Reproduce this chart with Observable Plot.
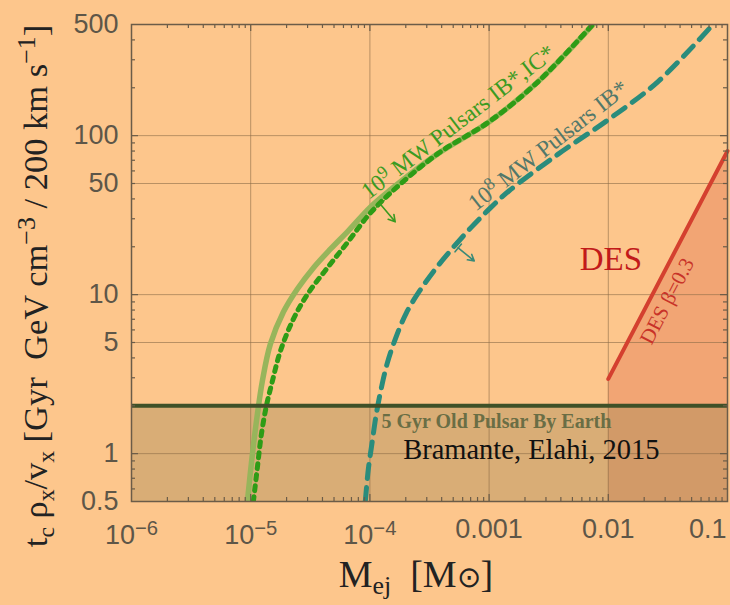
<!DOCTYPE html>
<html><head><meta charset="utf-8">
<script src="https://cdn.jsdelivr.net/npm/d3@7"></script>
<script src="https://cdn.jsdelivr.net/npm/@observablehq/plot@0.6"></script>
<style>
html,body{margin:0;padding:0;background:#FDC68C;}
#chart{width:730px;height:605px;overflow:hidden;}
svg text{white-space:pre;}
</style></head><body><div id="chart"></div>
<script>
// ---- axes ----
const xPowTicks = [1e-6, 1e-5, 1e-4];
const xPowTickLabels = ["10^{−6}", "10^{−5}", "10^{−4}"];
const xDecTicks = [1e-3, 1e-2];
const xDecTickLabels = ["0.001", "0.01"];
const xLastTick = [0.1];
const xLastTickLabel = ["0.1"];
const yTicks = [0.5, 1, 5, 10, 50, 100, 500];
const yTickLabels = ["0.5", "1", "5", "10", "50", "100", "500"];
const xGrid = [1e-5, 1e-4, 1e-3, 1e-2];
const yGrid = [1, 5, 10, 50, 100];
const xDecades = [1e-6, 1e-5, 1e-4, 1e-3, 1e-2];
const yDecades = [0.1, 1, 10, 100];
const minorMultipliers = [2, 3, 4, 5, 6, 7, 8, 9];

// ---- series ----
const greenSolidMass = [9.38e-6, 1.033e-5, 1.138e-5, 1.253e-5, 1.462e-5, 1.88e-5, 2.463e-5, 3.354e-5, 4.656e-5, 6.59e-5, 1.008e-4, 1.483e-4, 3.673e-4, 1.002e-3, 2.53e-3, 7.46e-3];
const greenSolidTime = [0.5, 0.99, 1.77, 2.86, 4.88, 7.77, 10.85, 14.72, 19.3, 25.2, 35.5, 45.5, 76.5, 122.4, 215.6, 500];
const greenDotMass = [1.053e-5, 1.138e-5, 1.229e-5, 1.353e-5, 1.52e-5, 1.774e-5, 2.28e-5, 3.046e-5, 4.393e-5, 6.465e-5, 9.7e-5, 1.483e-4, 3.673e-4, 1.002e-3, 2.53e-3, 7.4e-3];
const greenDotTime = [0.5, 0.82, 1.32, 1.99, 2.86, 4.41, 7.02, 10.24, 14.72, 21.2, 31.5, 43.5, 76.5, 122.4, 215.6, 500];
const tealMass = [9.15e-5, 9.7e-5, 1.047e-4, 1.131e-4, 1.246e-4, 1.399e-4, 1.633e-4, 2.019e-4, 2.646e-4, 3.602e-4, 5.0e-4, 7.08e-4, 1.021e-3, 1.474e-3, 3.795e-3, 1.0e-2, 2.615e-2, 7.56e-2];
const tealTime = [0.5, 0.797, 1.196, 1.77, 2.58, 3.71, 5.25, 7.66, 10.7, 14.72, 19.8, 26.5, 35.0, 45.0, 76.5, 126, 218.7, 500];
const desMass = [0.01, 0.1];
const desTime = [2.95, 80];
const bandMass = [1e-6, 0.1];
const bandLow = 0.5;
const earthLimit = 2;

// ---- annotations ----
const greenArrow = {m1: 1.22e-4, t1: 37.2, m2: 1.63e-4, t2: 28.7};
const tealArrow = {m1: 5.5e-4, t1: 19.7, m2: 7.5e-4, t2: 16.3};
const greenBar = [{m: 1.136e-4, t: 35.6}, {m: 1.315e-4, t: 39.0}];
const tealBar = [{m: 5.18e-4, t: 18.6}, {m: 5.86e-4, t: 20.8}];
const greenLabel = {m: 5.5e-4, t: 122, text: "10^{9} MW Pulsars IB*,IC*"};
const tealLabel = {m: 3.13e-3, t: 86.5, text: "10^{8} MW Pulsars IB*"};
const desLabel = {m: 0.0105, t: 16.7, text: "DES"};
const desBetaLabel = {m: 0.0311, t: 9.1, text: "DES β=0.3"};
const earthLabel = {m: 1.25e-4, t: 1.6, text: "5 Gyr Old Pulsar By Earth"};
const creditLabel = {m: 1.9e-4, t: 1.06, text: "Bramante, Elahi, 2015"};
const xLabel = "M_{ej}  [M~{⊙}]";
const yLabel = "t_{c} ρ_{x}/v_{x} [Gyr  GeV cm^{−3} / 200 km s^{−1}]";

const zip = (a, b) => a.map((m, i) => ({m, t: b[i]}));
const minorX = xDecades.flatMap(d => minorMultipliers.map(k => d * k)).filter(v => v < 0.1);
const minorY = yDecades.flatMap(d => minorMultipliers.map(k => d * k)).filter(v => v > 0.5 && v < 500);
const majorX = [1e-5, 1e-4, 1e-3, 1e-2];
const majorY = [1, 10, 100];

const serif = "Liberation Serif";
const sans = "Liberation Sans";
const tickColor = "#6B5C48";
const labelColor = "#5E5648";
const W = 730, H = 605, mL = 131, mR = 3, mT = 24, mB = 104;
const fw = W - mL - mR, fh = H - mT - mB;
const tickRule = (vals, dim, side, len) => {
  const o = {stroke: tickColor, strokeWidth: 1.2};
  if (dim === "x") {
    if (side === "bottom") o.insetTop = fh - len; else o.insetBottom = fh - len;
    return Plot.ruleX(vals, o);
  }
  if (side === "left") o.insetRight = fw - len; else o.insetLeft = fw - len;
  return Plot.ruleY(vals, o);
};

const chart = Plot.plot({
  width: W, height: H,
  marginLeft: mL, marginRight: mR, marginTop: mT, marginBottom: mB,
  style: {background: "transparent", fontFamily: sans, overflow: "visible"},
  x: {type: "log", domain: [1e-6, 0.1], axis: null},
  y: {type: "log", domain: [0.5, 500], axis: null},
  marks: [
    Plot.areaY(zip(desMass, desTime), {x: "m", y1: bandLow, y2: "t", fill: "#F2A574"}),
    Plot.areaY(bandMass.map(m => ({m})), {x: "m", y1: bandLow, y2: earthLimit, fill: "#A88A58", fillOpacity: 0.42}),
    Plot.ruleX(xGrid, {stroke: "#8C6C48", strokeOpacity: 0.6, strokeWidth: 1}),
    Plot.ruleY(yGrid, {stroke: "#8C6C48", strokeOpacity: 0.6, strokeWidth: 1}),
    Plot.line(zip(greenSolidMass, greenSolidTime), {x: "m", y: "t", stroke: "#97B55B", strokeWidth: 5.5, curve: "catmull-rom", clip: true}),
    Plot.line(zip(greenDotMass, greenDotTime), {x: "m", y: "t", stroke: "#2E9C16", strokeWidth: 5, strokeDasharray: "5,6", curve: "catmull-rom", clip: true}),
    Plot.line(zip(tealMass, tealTime), {x: "m", y: "t", stroke: "#2A8C7C", strokeWidth: 5, strokeDasharray: "14,9", curve: "catmull-rom", clip: true}),
    Plot.line(zip(desMass, desTime), {x: "m", y: "t", stroke: "#D4402F", strokeWidth: 4}),
    Plot.ruleY([earthLimit], {stroke: "#3F5128", strokeWidth: 4}),
    Plot.arrow([greenArrow], {x1: "m1", y1: "t1", x2: "m2", y2: "t2", stroke: "#3A9A20", strokeWidth: 1.6, headLength: 7}),
    Plot.arrow([tealArrow], {x1: "m1", y1: "t1", x2: "m2", y2: "t2", stroke: "#3A8A78", strokeWidth: 1.6, headLength: 7}),
    Plot.line(greenBar, {x: "m", y: "t", stroke: "#3A9A20", strokeWidth: 1.6}),
    Plot.line(tealBar, {x: "m", y: "t", stroke: "#3A8A78", strokeWidth: 1.6}),
    Plot.text([greenLabel], {x: "m", y: "t", text: "text", rotate: -37.5, fontSize: 23.5, fontFamily: serif, fill: "#3C9B22"}),
    Plot.text([tealLabel], {x: "m", y: "t", text: "text", rotate: -38, fontSize: 23.5, fontFamily: serif, fill: "#52786A"}),
    Plot.text([desLabel], {x: "m", y: "t", text: "text", fontSize: 33, fontFamily: serif, fill: "#C21A1A"}),
    Plot.text([desBetaLabel], {x: "m", y: "t", text: "text", rotate: -62.6, fontSize: 21, fontFamily: serif, fill: "#C83228"}),
    Plot.text([earthLabel], {x: "m", y: "t", text: "text", textAnchor: "start", fontSize: 20, fontWeight: "bold", fontFamily: serif, fill: "#6A6E45"}),
    Plot.text([creditLabel], {x: "m", y: "t", text: "text", textAnchor: "start", fontSize: 28.5, fontFamily: serif, fill: "#111111"}),
    // inward ticks on all four sides
    tickRule(minorX, "x", "bottom", 4), tickRule(minorX, "x", "top", 4),
    tickRule(majorX, "x", "bottom", 7), tickRule(majorX, "x", "top", 7),
    tickRule(minorY, "y", "left", 4), tickRule(minorY, "y", "right", 4),
    tickRule(majorY, "y", "left", 7), tickRule(majorY, "y", "right", 7),
    Plot.frame({stroke: tickColor, strokeWidth: 1.5}),
    // tick labels
    Plot.text(xPowTicks, {x: d => d, text: (d, i) => xPowTickLabels[i], frameAnchor: "bottom", lineAnchor: "top", dy: 23, fontSize: 27, fontFamily: sans, fill: labelColor}),
    Plot.text(xDecTicks, {x: d => d, text: (d, i) => xDecTickLabels[i], frameAnchor: "bottom", lineAnchor: "top", dy: 17, fontSize: 27, fontFamily: sans, fill: labelColor}),
    Plot.text(xLastTick, {x: d => d, text: (d, i) => xLastTickLabel[i], frameAnchor: "bottom", lineAnchor: "top", dy: 17, dx: -1, textAnchor: "end", fontSize: 27, fontFamily: sans, fill: labelColor}),
    Plot.text(yTicks, {y: d => d, text: (d, i) => yTickLabels[i], frameAnchor: "left", textAnchor: "end", lineAnchor: "middle", dx: -13, fontSize: 27, fontFamily: sans, fill: labelColor})
  ]
});

const svg = chart;
const NS = "http://www.w3.org/2000/svg";
// axis titles
const yl = document.createElementNS(NS, "text");
yl.setAttribute("transform", "translate(35,286) rotate(-90)");
yl.setAttribute("text-anchor", "middle");
yl.setAttribute("dy", "0.35em");
yl.setAttribute("font-family", serif);
yl.setAttribute("font-size", "34.5");
yl.setAttribute("fill", "#222");
yl.textContent = yLabel;
svg.appendChild(yl);
const xl = document.createElementNS(NS, "text");
xl.setAttribute("x", 416);
xl.setAttribute("y", 574);
xl.setAttribute("text-anchor", "middle");
xl.setAttribute("dy", "0.35em");
xl.setAttribute("font-family", serif);
xl.setAttribute("font-size", "38");
xl.setAttribute("fill", "#222");
xl.textContent = xLabel;
svg.appendChild(xl);

function rich(el) {
  const s = el.textContent;
  if (!/[\^_~]\{/.test(s)) return;
  el.textContent = "";
  const re = /([\^_~])\{([^}]*)\}/g;
  let last = 0, m;
  const add = (txt, kind) => {
    if (!txt) return;
    const t = document.createElementNS(NS, "tspan");
    t.textContent = txt;
    if (kind === "^") { t.setAttribute("baseline-shift", "0.45em"); t.style.fontSize = "0.75em"; }
    else if (kind === "_") { t.setAttribute("baseline-shift", "-0.28em"); t.style.fontSize = "0.68em"; }
    else if (kind === "~") { t.style.fontSize = "0.75em"; }
    el.appendChild(t);
  };
  while ((m = re.exec(s))) { add(s.slice(last, m.index)); add(m[2], m[1]); last = re.lastIndex; }
  add(s.slice(last));
}
svg.querySelectorAll("text").forEach(rich);
document.getElementById("chart").appendChild(svg);
</script></body></html>
